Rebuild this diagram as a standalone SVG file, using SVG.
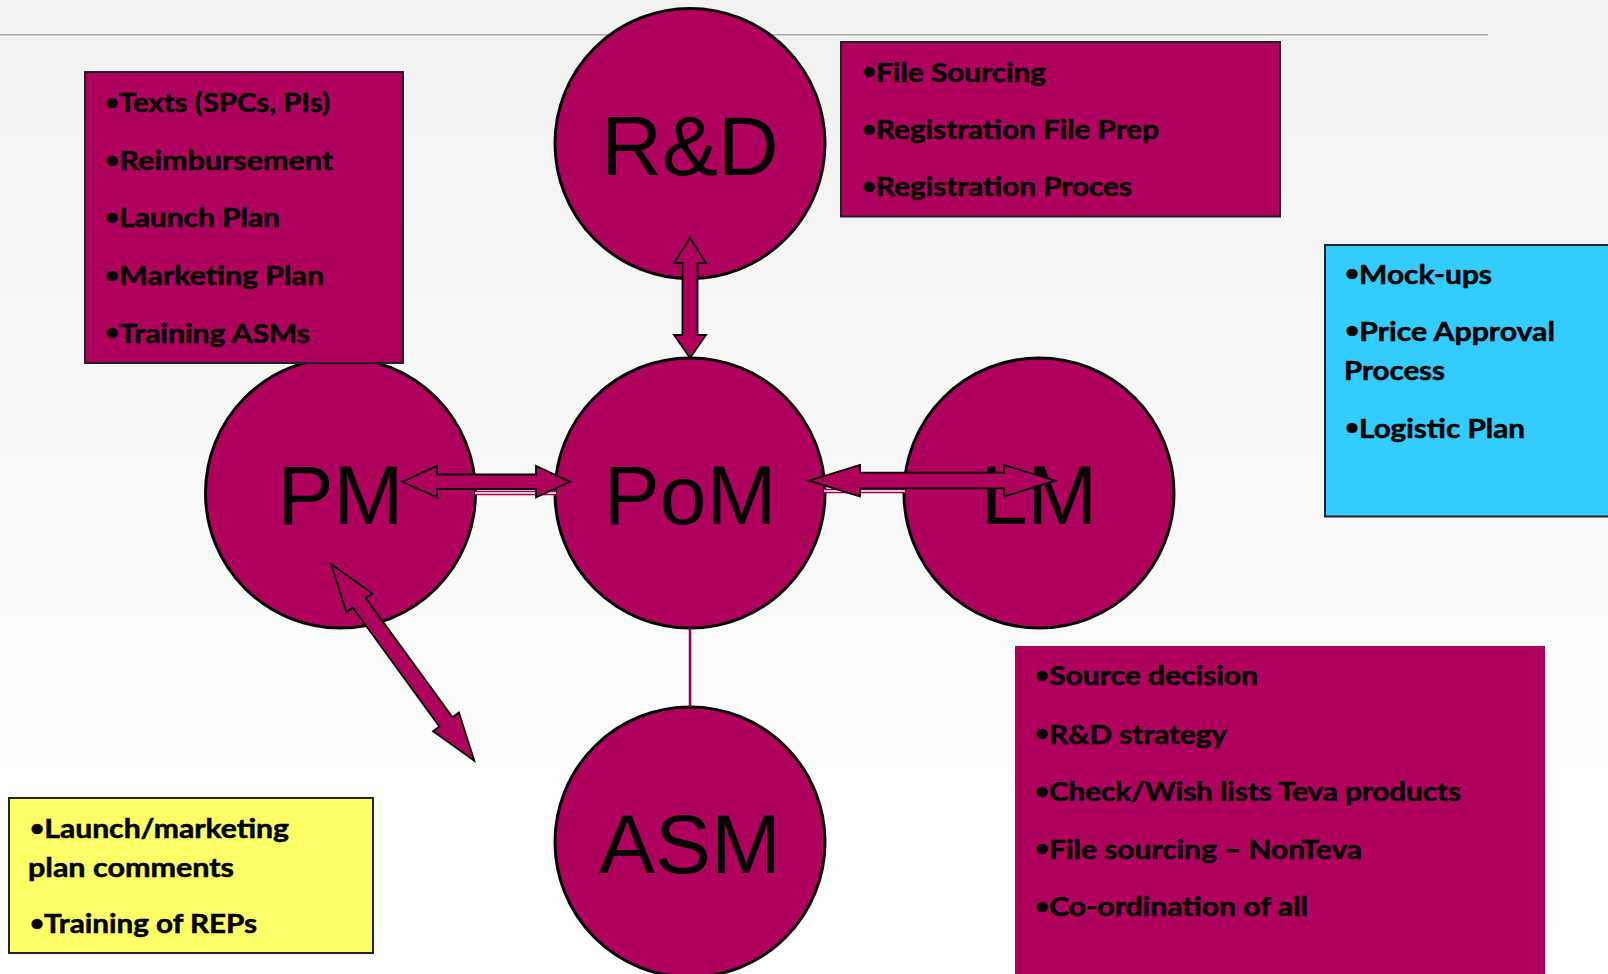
<svg xmlns="http://www.w3.org/2000/svg" width="1608" height="974" viewBox="0 0 1608 974">
  <defs>
    <linearGradient id="bg" x1="0" y1="0" x2="0" y2="1">
      <stop offset="0" stop-color="#f2f2f2"/>
      <stop offset="1" stop-color="#ffffff"/>
    </linearGradient>
  </defs>
  <style>
    .circ { fill: #b0005e; stroke: #000; stroke-width: 3; }
    .clabel { font-family: "Liberation Sans", Arial, sans-serif; font-size: 84px; fill: #000; text-anchor: middle; }
    .box { stroke: #222; stroke-width: 2; }
    .mag { fill: #b0005e; }
    .cyan { fill: #33ccff; }
    .yel { fill: #ffff66; }
    .btxt { font-family: Lato, "Open Sans", sans-serif; font-weight: bold; font-size: 27px; fill: #000; stroke: #000; stroke-width: 0.55; }
    .bul { font-size: 22px; }
    .arrow { fill: #b0005e; stroke: #000; stroke-width: 1.8; stroke-linejoin: miter; }
    .dbl-out { stroke: #9a0052; stroke-width: 4.5; fill: none; }
    .dbl-in { stroke: #ffffff; stroke-width: 1.5; fill: none; }
    .single { stroke: #9a0052; stroke-width: 2.5; fill: none; }
  </style>

  <rect x="0" y="0" width="1608" height="974" fill="url(#bg)"/>
  <line x1="0" y1="34.7" x2="1488" y2="34.7" stroke="#a6a6a6" stroke-width="1.6"/>

  <g id="node-rd">
    <circle class="circ" cx="690" cy="143.5" r="135"/>
    <text class="clabel" x="690" y="174.5">R&amp;D</text>
  </g>
  <g id="node-pom">
    <circle class="circ" cx="690" cy="493" r="135"/>
    <text class="clabel" x="690" y="524">PoM</text>
  </g>
  <g id="node-pm">
    <circle class="circ" cx="340.5" cy="493" r="135"/>
    <text class="clabel" x="340.5" y="524">PM</text>
  </g>
  <g id="node-lm">
    <circle class="circ" cx="1039" cy="493" r="135"/>
    <text class="clabel" x="1039" y="524">LM</text>
  </g>
  <g id="node-asm">
    <circle class="circ" cx="690" cy="842" r="135"/>
    <text class="clabel" x="690" y="873">ASM</text>
  </g>

  <g id="box-pm">
    <rect class="box mag" x="85" y="72" width="318" height="291"/>
    <text class="btxt" x="105" y="112" textLength="225" lengthAdjust="spacingAndGlyphs"><tspan class="bul" dy="-2.5">•</tspan><tspan dy="2.5">Texts (SPCs, PIs)</tspan></text>
    <text class="btxt" x="105" y="170" textLength="228" lengthAdjust="spacingAndGlyphs"><tspan class="bul" dy="-2.5">•</tspan><tspan dy="2.5">Reimbursement</tspan></text>
    <text class="btxt" x="105" y="227" textLength="175" lengthAdjust="spacingAndGlyphs"><tspan class="bul" dy="-2.5">•</tspan><tspan dy="2.5">Launch Plan</tspan></text>
    <text class="btxt" x="105" y="285" textLength="219" lengthAdjust="spacingAndGlyphs"><tspan class="bul" dy="-2.5">•</tspan><tspan dy="2.5">Marketing Plan</tspan></text>
    <text class="btxt" x="105" y="342.5" textLength="205" lengthAdjust="spacingAndGlyphs"><tspan class="bul" dy="-2.5">•</tspan><tspan dy="2.5">Training ASMs</tspan></text>
  </g>

  <g id="box-rd">
    <rect class="box mag" x="841" y="42" width="439" height="174.5"/>
    <text class="btxt" x="862" y="81.5" textLength="184" lengthAdjust="spacingAndGlyphs"><tspan class="bul" dy="-2.5">•</tspan><tspan dy="2.5">File Sourcing</tspan></text>
    <text class="btxt" x="862" y="139" textLength="297" lengthAdjust="spacingAndGlyphs"><tspan class="bul" dy="-2.5">•</tspan><tspan dy="2.5">Registration File Prep</tspan></text>
    <text class="btxt" x="862" y="196" textLength="270" lengthAdjust="spacingAndGlyphs"><tspan class="bul" dy="-2.5">•</tspan><tspan dy="2.5">Registration Proces</tspan></text>
  </g>

  <g id="box-lm">
    <rect class="box cyan" x="1325" y="245" width="290" height="271.5" stroke="#000"/>
    <text class="btxt" x="1345" y="283.5" textLength="147" lengthAdjust="spacingAndGlyphs"><tspan class="bul" dy="-2.5">•</tspan><tspan dy="2.5">Mock-ups</tspan></text>
    <text class="btxt" x="1345" y="340.5" textLength="210" lengthAdjust="spacingAndGlyphs"><tspan class="bul" dy="-2.5">•</tspan><tspan dy="2.5">Price Approval</tspan></text>
    <text class="btxt" x="1344" y="380" textLength="101" lengthAdjust="spacingAndGlyphs">Process</text>
    <text class="btxt" x="1345" y="437.5" textLength="180" lengthAdjust="spacingAndGlyphs"><tspan class="bul" dy="-2.5">•</tspan><tspan dy="2.5">Logistic Plan</tspan></text>
  </g>

  <g id="box-pom">
    <rect class="mag" x="1015" y="646" width="530" height="330"/>
    <text class="btxt" x="1035" y="685" textLength="223" lengthAdjust="spacingAndGlyphs"><tspan class="bul" dy="-2.5">•</tspan><tspan dy="2.5">Source decision</tspan></text>
    <text class="btxt" x="1035" y="743.5" textLength="192" lengthAdjust="spacingAndGlyphs"><tspan class="bul" dy="-2.5">•</tspan><tspan dy="2.5">R&amp;D strategy</tspan></text>
    <text class="btxt" x="1035" y="801" textLength="426" lengthAdjust="spacingAndGlyphs"><tspan class="bul" dy="-2.5">•</tspan><tspan dy="2.5">Check/Wish lists Teva products</tspan></text>
    <text class="btxt" x="1035" y="858.5" textLength="327" lengthAdjust="spacingAndGlyphs"><tspan class="bul" dy="-2.5">•</tspan><tspan dy="2.5">File sourcing – NonTeva</tspan></text>
    <text class="btxt" x="1035" y="916" textLength="273" lengthAdjust="spacingAndGlyphs"><tspan class="bul" dy="-2.5">•</tspan><tspan dy="2.5">Co-ordination of all</tspan></text>
  </g>

  <g id="box-asm">
    <rect class="box yel" x="9" y="798" width="364" height="155"/>
    <text class="btxt" x="30" y="838" textLength="259" lengthAdjust="spacingAndGlyphs"><tspan class="bul" dy="-2.5">•</tspan><tspan dy="2.5">Launch/marketing</tspan></text>
    <text class="btxt" x="28" y="877" textLength="206" lengthAdjust="spacingAndGlyphs">plan comments</text>
    <text class="btxt" x="30" y="933" textLength="227" lengthAdjust="spacingAndGlyphs"><tspan class="bul" dy="-2.5">•</tspan><tspan dy="2.5">Training of REPs</tspan></text>
  </g>

  <g id="connectors">
    <line class="dbl-out" x1="475" y1="493" x2="556" y2="493"/>
    <line class="dbl-in" x1="475" y1="493" x2="556" y2="493"/>
    <line class="dbl-out" x1="824" y1="491" x2="905" y2="491"/>
    <line class="dbl-in" x1="824" y1="491" x2="905" y2="491"/>
    <line class="single" x1="690" y1="628" x2="690" y2="707"/>
    <polygon class="arrow" points="690,238 706,263 697.5,263 697.5,335 706,335 690,358 674,335 682.5,335 682.5,263 674,263"/>
    <polygon class="arrow" points="402,481.7 437,466 437,474.5 536,474.5 536,466 570,481.7 536,497.3 536,489 437,489 437,497.3"/>
    <polygon class="arrow" points="809.3,480.7 860,465 860,472.7 1004,472.7 1004,465 1055.3,480.7 1004,496.5 1004,488.3 860,488.3 860,496.5"/>
    <polygon class="arrow" points="331,564 372.2,593.4 365.8,598.1 452.5,717.2 458.9,712.5 474.3,760.7 433.1,731.3 439.5,726.6 352.8,607.5 346.4,612.2"/>
  </g>
</svg>
